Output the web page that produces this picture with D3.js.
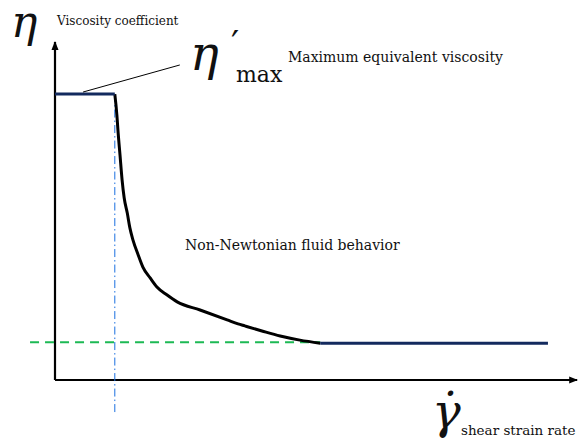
<!DOCTYPE html>
<html>
<head>
<meta charset="utf-8">
<script src="https://cdn.jsdelivr.net/npm/d3@7"></script>
<style>
  html, body { margin: 0; padding: 0; background: #fff; }
</style>
</head>
<body>
<div id="chart"></div>
<script>
// schematic viscosity curve, arbitrary units (x: shear rate 0-100, y: viscosity 0-100)
var upperPlateau = [[0, 84.6], [11.5, 84.6]];
var lowerPlateau = [[51.0, 10.9], [94.8, 10.9]];
var curveX = [11.5, 11.9, 12.1, 12.5, 12.9, 13.3, 13.9, 14.4, 15.0, 16.0, 16.9, 18.3, 19.6, 21.5, 23.5, 27.9, 33.1, 35.2, 36.5, 39.8, 43.3, 47.1, 51.0];
var curveY = [84.6, 78.4, 74.0, 66.6, 59.2, 53.9, 49.4, 45.0, 41.4, 37.0, 33.4, 30.2, 27.5, 25.2, 23.1, 20.7, 17.8, 16.6, 16.0, 14.5, 13.0, 11.8, 10.9];
var newtonLevel = [[-4.8, 11.2], [51.0, 11.2]];
var criticalRate = [[11.5, 84.6], [11.5, -9.8]];
var leader = [[5.4, 85.2], [24.0, 93.2]];

(function () {
  var width = 581, height = 439;
  var serif = "DejaVu Serif";

  var x = d3.scaleLinear().domain([0, 100]).range([55, 575]);
  var y = d3.scaleLinear().domain([0, 100]).range([380, 42]);

  var svg = d3.select("#chart").append("svg")
    .attr("width", width)
    .attr("height", height)
    .style("display", "block");

  // arrow marker
  svg.append("defs").append("marker")
    .attr("id", "arrow")
    .attr("viewBox", "0 0 10 10")
    .attr("refX", 9).attr("refY", 5)
    .attr("markerWidth", 4).attr("markerHeight", 4)
    .attr("orient", "auto")
    .append("path")
    .attr("d", "M0,1 L10,5 L0,9 Z")
    .attr("fill", "#000");

  var line = d3.line()
    .x(function (d) { return x(d[0]); })
    .y(function (d) { return y(d[1]); });

  // axes
  svg.append("path")
    .attr("d", line([[0, 0], [0, 100]]))
    .attr("stroke", "#000").attr("stroke-width", 2.2)
    .attr("marker-end", "url(#arrow)");
  svg.append("path")
    .attr("d", line([[0, 0], [100.4, 0]]))
    .attr("stroke", "#000").attr("stroke-width", 2.2)
    .attr("marker-end", "url(#arrow)");

  // green dashed reference level
  svg.append("path")
    .attr("d", line(newtonLevel))
    .attr("stroke", "#1db954").attr("stroke-width", 2)
    .attr("stroke-dasharray", "9,6")
    .attr("fill", "none");

  // blue dash-dot vertical
  svg.append("path")
    .attr("d", line(criticalRate))
    .attr("stroke", "#1a6fe0").attr("stroke-width", 1)
    .attr("stroke-dasharray", "8,3,1.5,3")
    .attr("fill", "none");

  // shear-thinning curve
  var pts = curveX.map(function (d, i) { return [d, curveY[i]]; });
  var smooth = d3.line()
    .x(function (d) { return x(d[0]); })
    .y(function (d) { return y(d[1]); })
    .curve(d3.curveMonotoneX);
  svg.append("path")
    .attr("d", smooth(pts))
    .attr("stroke", "#000").attr("stroke-width", 3)
    .attr("fill", "none");

  // plateaus
  [upperPlateau, lowerPlateau].forEach(function (p) {
    svg.append("path")
      .attr("d", line(p))
      .attr("stroke", "#132a5e").attr("stroke-width", 3)
      .attr("fill", "none");
  });

  // leader line to label
  svg.append("path")
    .attr("d", line(leader))
    .attr("stroke", "#000").attr("stroke-width", 1)
    .attr("fill", "none");

  // labels
  function txt(px, py, s, size, italic) {
    return svg.append("text")
      .attr("x", px).attr("y", py)
      .attr("font-family", serif)
      .attr("font-size", size + "px")
      .attr("font-style", italic ? "italic" : "normal")
      .attr("fill", "#111")
      .text(s);
  }

  txt(11, 37, "η", 44, true);
  txt(57, 25, "Viscosity coefficient", 12);

  txt(190, 70, "η", 48, true);
  txt(231, 56, "′", 36, false);
  txt(236, 82, "max", 22);
  txt(288, 62, "Maximum equivalent viscosity", 14);

  txt(185, 250, "Non-Newtonian fluid behavior", 14);

  txt(432, 428, "γ\u0307", 48, true);
  txt(461, 435, "shear strain rate", 13.5);
})();
</script>
</body>
</html>
